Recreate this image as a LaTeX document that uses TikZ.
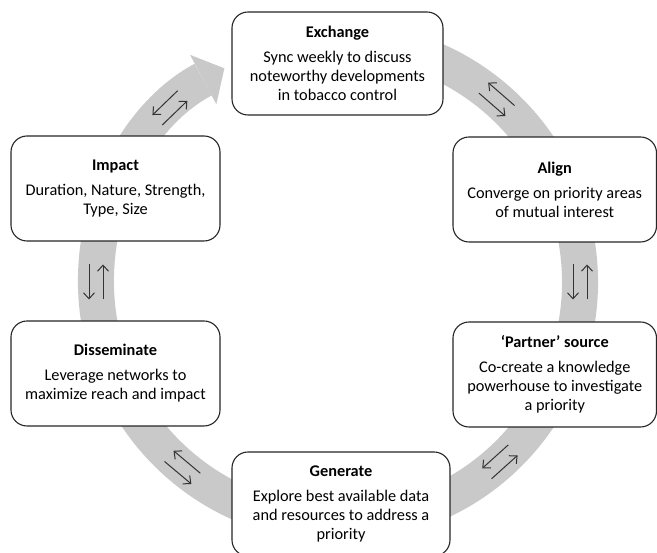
\documentclass[tikz,border=0pt]{standalone}
\usepackage{fontspec}
\setmainfont{Carlito}
\colorlet{RingGray}{gray!42}
\colorlet{StageBorder}{black!85}
\usetikzlibrary{arrows.meta}

\tikzset{
  stage/.style={draw=StageBorder, line width=1.1pt, fill=white,
    rounded corners=16pt, align=center, inner sep=0pt,
    font=\fontsize{16.3pt}{19pt}\selectfont},
  swaparrow/.style={draw=black!80, line width=1pt,
    -{Straight Barb[length=6pt,width=11pt]}},
  swap/.pic={
    \draw[swaparrow] (-7,17.5) -- (-7,-17.5);
    \draw[swaparrow] (7,-17.5) -- (7,17.5);
  }
}

\begin{document}
\begin{tikzpicture}[x=1pt, y=1pt]

\useasboundingbox (0,0) rectangle (657,553);
\coordinate (C) at (338,271);

% the cycle
\draw[RingGray, line width=36pt,
    -{Triangle[width=56pt, length=24pt, line width=0pt]}]
    (C) ++(100:242) arc[start angle=100, end angle=-242, radius=242];

\path (C) ++(134:242) pic[rotate=134] {swap};
\path (C) ++(49:242) pic[rotate=49] {swap};
\path (C) ++(0:242) pic[rotate=0] {swap};
\path (C) ++(-48:242) pic[rotate=-48] {swap};
\path (C) ++(-130:242) pic[rotate=-130] {swap};
\path (C) ++(180:242) pic[rotate=180] {swap};

% the six stages
\node[stage, minimum width=211pt, minimum height=103pt] (exchange) at (337.5,489.5)
    {\textbf{Exchange}\\[6pt] Sync weekly to discuss\\ noteworthy developments\\ in tobacco control};
\node[stage, minimum width=203.5pt, minimum height=105pt] (align) at (554.75,363.5)
    {\textbf{Align}\\[6pt] Converge on priority areas\\ of mutual interest};
\node[stage, minimum width=203.5pt, minimum height=105pt] (partner) at (554.75,178.5)
    {\textbf{‘Partner’ source}\\[6pt] Co-create a knowledge\\ powerhouse to investigate\\ a priority};
\node[stage, minimum width=218pt, minimum height=104pt] (generate) at (341,49)
    {\textbf{Generate}\\[6pt] Explore best available data\\ and resources to address a\\ priority};
\node[stage, minimum width=209pt, minimum height=105pt] (disseminate) at (115.5,179.5)
    {\textbf{Disseminate}\\[6pt] Leverage networks to\\ maximize reach and impact};
\node[stage, minimum width=209pt, minimum height=105pt] (impact) at (115.5,364.5)
    {\textbf{Impact}\\[6pt] Duration, Nature, Strength,\\ Type, Size};

\end{tikzpicture}
\end{document}
